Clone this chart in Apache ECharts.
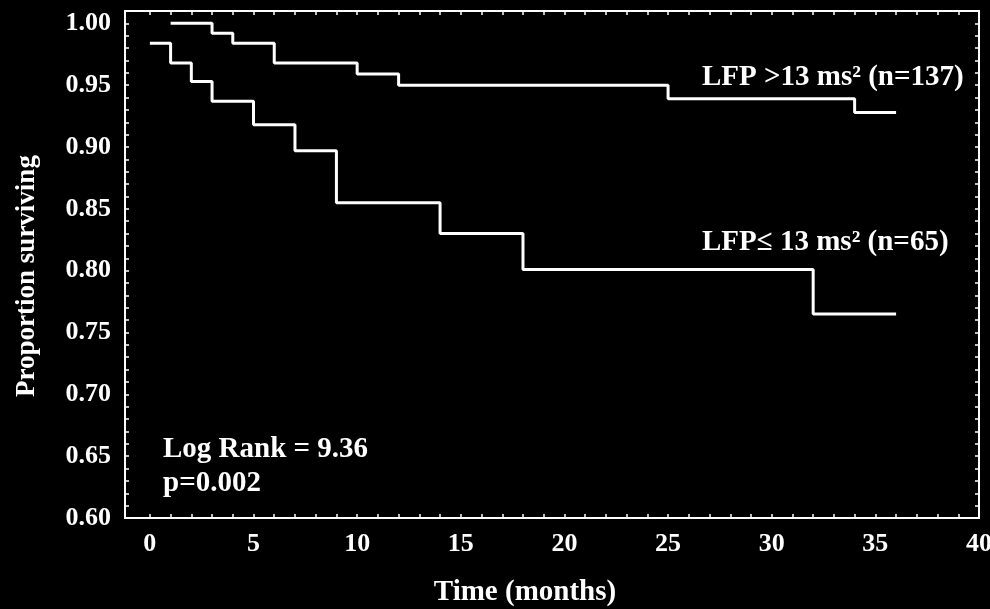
<!DOCTYPE html>
<html>
<head>
<meta charset="utf-8">
<script src="https://cdn.jsdelivr.net/npm/echarts@6/dist/echarts.min.js"></script>
<style>
html,body{margin:0;padding:0;background:#000;}
#chart{width:990px;height:609px;}
</style>
</head>
<body>
<div id="chart"></div>
<script>
// Kaplan-Meier step data: [time (months), proportion surviving]
const highLabel = 'LFP >13 ms\u00B2 (n=137)';
const lowLabel = 'LFP\u2264 13 ms\u00B2 (n=65)';
const highTimes = [1, 3, 4, 6, 10, 12, 25, 34, 36];
const highValues = [1.000, 0.992, 0.984, 0.968, 0.959, 0.950, 0.939, 0.928, 0.928];
const lowTimes = [0, 1, 2, 3, 5, 7, 9, 14, 18, 32, 36];
const lowValues = [0.984, 0.968, 0.953, 0.937, 0.918, 0.897, 0.855, 0.830, 0.801, 0.765, 0.765];
const xTickLabels = [0, 5, 10, 15, 20, 25, 30, 35, 40];
const yTickLabels = [0.60, 0.65, 0.70, 0.75, 0.80, 0.85, 0.90, 0.95, 1.00];
const xMinorTicks = Array.from({length: 41}, (_, i) => i);
const yMinorTicks = Array.from({length: 42}, (_, i) => +(0.60 + i * 0.01).toFixed(2));
const xAxisTitle = 'Time (months)';
const yAxisTitle = 'Proportion surviving';
const statLines = ['Log Rank = 9.36', 'p=0.002'];

const FONT = "'Liberation Serif', 'Times New Roman', serif";
const pair = (ts, vs) => ts.map((t, i) => [t, vs[i]]);

const chart = echarts.init(document.getElementById('chart'));
const axisLine = {show: true, onZero: false, lineStyle: {color: '#fff', width: 2}};
const tickStyle = {color: '#fff', width: 1.5};
chart.setOption({
  backgroundColor: '#000',
  animation: false,
  grid: {left: 125, top: 11, right: 11, bottom: 91, containLabel: false, outerBoundsMode: 'none'},
  xAxis: [{
    type: 'value', min: -1.2, max: 40, position: 'bottom',
    axisLine: axisLine,
    axisTick: {show: true, inside: true, length: 4, customValues: xMinorTicks, lineStyle: tickStyle},
    axisLabel: {show: true, customValues: xTickLabels, color: '#fff', fontFamily: FONT, fontWeight: 'bold', fontSize: 26, margin: 13, hideOverlap: false},
    splitLine: {show: false}
  }, {
    type: 'value', min: -1.2, max: 40, position: 'top',
    axisLine: axisLine,
    axisTick: {show: true, inside: true, length: 4, customValues: xMinorTicks, lineStyle: tickStyle},
    axisLabel: {show: false},
    splitLine: {show: false}
  }],
  yAxis: [{
    type: 'value', min: 0.6, max: 1.01, position: 'left',
    axisLine: axisLine,
    axisTick: {show: true, inside: true, length: 4, customValues: yMinorTicks, lineStyle: tickStyle},
    axisLabel: {show: true, customValues: yTickLabels, formatter: v => v.toFixed(2), color: '#fff', fontFamily: FONT, fontWeight: 'bold', fontSize: 26, margin: 14},
    splitLine: {show: false}
  }, {
    type: 'value', min: 0.6, max: 1.01, position: 'right',
    axisLine: axisLine,
    axisTick: {show: true, inside: true, length: 4, customValues: yMinorTicks, lineStyle: tickStyle},
    axisLabel: {show: false},
    splitLine: {show: false}
  }],
  series: [{
    name: highLabel, type: 'line', step: 'end', showSymbol: false,
    data: pair(highTimes, highValues),
    lineStyle: {color: '#fff', width: 3}
  }, {
    name: lowLabel, type: 'line', step: 'end', showSymbol: false,
    data: pair(lowTimes, lowValues),
    lineStyle: {color: '#fff', width: 3}
  }],
  graphic: [
    {type: 'text', x: 702, y: 78, style: {text: highLabel, fill: '#fff', font: 'bold 29px ' + FONT, verticalAlign: 'middle'}},
    {type: 'text', x: 702, y: 243, style: {text: lowLabel, fill: '#fff', font: 'bold 29px ' + FONT, verticalAlign: 'middle'}},
    {type: 'text', x: 163, y: 450, style: {text: statLines[0], fill: '#fff', font: 'bold 29px ' + FONT, verticalAlign: 'middle'}},
    {type: 'text', x: 163, y: 484, style: {text: statLines[1], fill: '#fff', font: 'bold 29px ' + FONT, verticalAlign: 'middle'}},
    {type: 'text', x: 525, y: 593, style: {text: xAxisTitle, fill: '#fff', font: 'bold 29px ' + FONT, align: 'center', verticalAlign: 'middle'}},
    {type: 'text', x: 27, y: 276, rotation: Math.PI / 2, style: {text: yAxisTitle, fill: '#fff', font: 'bold 27px ' + FONT, align: 'center', verticalAlign: 'middle'}}
  ]
});
</script>
</body>
</html>
